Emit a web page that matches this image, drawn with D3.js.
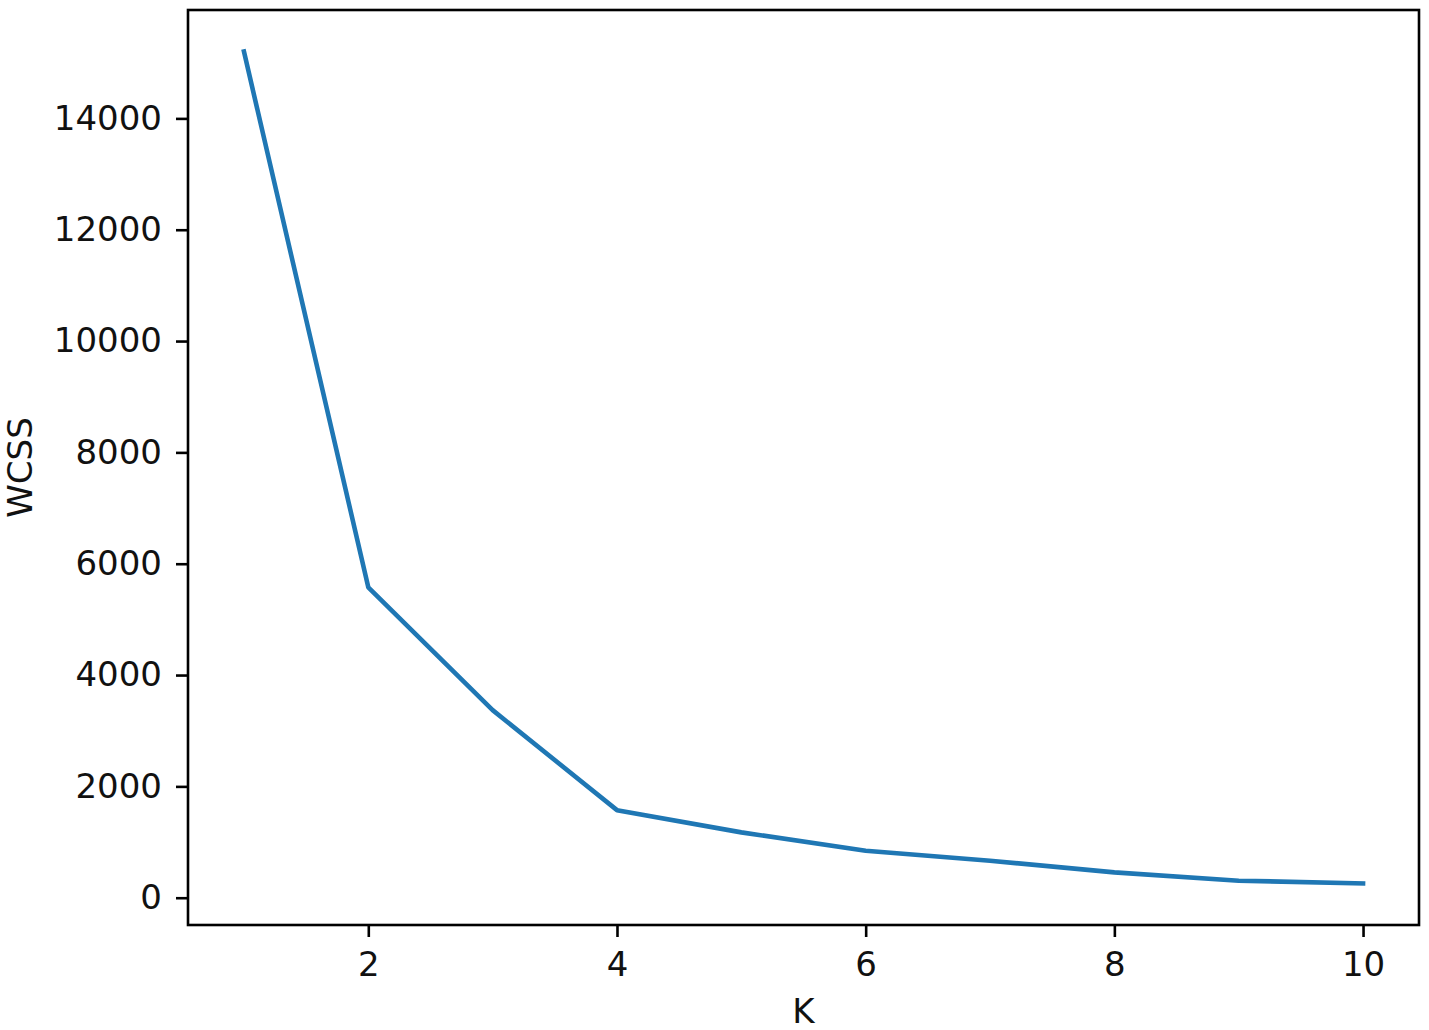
<!DOCTYPE html>
<html>
<head>
<meta charset="utf-8">
<script src="https://cdn.jsdelivr.net/npm/d3@7"></script>
<style>
  body { margin: 0; background: #fff; }
  svg { display: block; font-family: "DejaVu Sans", sans-serif; }
</style>
</head>
<body>
<div id="chart"></div>
<script>
// elbow curve values
var kValues = [1, 2, 3, 4, 5, 6, 7, 8, 9, 10];
var wcss = [15200, 5577, 3370, 1573, 1174, 845, 665, 455, 306, 257];
var xTicks = [2, 4, 6, 8, 10];
var yTicks = [0, 2000, 4000, 6000, 8000, 10000, 12000, 14000];

var width = 1429, height = 1030;
var plotLeft = 188, plotTop = 10, plotRight = 1419, plotBottom = 925;
var fontSize = '34px';

var svg = d3.select('#chart').append('svg')
  .attr('width', width)
  .attr('height', height);

// matplotlib style 5% margins
var xr = d3.extent(kValues), yr = d3.extent(wcss);
var xPad = (xr[1] - xr[0]) * 0.05, yPad = (yr[1] - yr[0]) * 0.05;

var x = d3.scaleLinear().domain([xr[0] - xPad, xr[1] + xPad]).range([plotLeft, plotRight]);
var y = d3.scaleLinear().domain([yr[0] - yPad, yr[1] + yPad]).range([plotBottom, plotTop]);

var line = d3.line()
  .x(function(d, i) { return x(kValues[i]); })
  .y(function(d) { return y(d); });

svg.append('path')
  .datum(wcss)
  .attr('d', line)
  .attr('fill', 'none')
  .attr('stroke', '#1f77b4')
  .attr('stroke-width', 4.6)
  .attr('stroke-linejoin', 'round')
  .attr('stroke-linecap', 'square');

var xAxis = svg.append('g')
  .attr('transform', 'translate(0,' + plotBottom + ')')
  .call(d3.axisBottom(x).tickValues(xTicks).tickSize(12).tickPadding(15).tickFormat(d3.format('d')));

var yAxis = svg.append('g')
  .attr('transform', 'translate(' + plotLeft + ',0)')
  .call(d3.axisLeft(y).tickValues(yTicks).tickSize(12).tickPadding(14).tickFormat(d3.format('d')));

[xAxis, yAxis].forEach(function(a) {
  a.select('.domain').remove();
  a.selectAll('line').attr('stroke', '#000').attr('stroke-width', 2.6);
  a.selectAll('text').attr('fill', '#111').style('font-size', fontSize)
    .style('font-family', '"DejaVu Sans", sans-serif');
});

// frame
svg.append('rect')
  .attr('x', plotLeft).attr('y', plotTop)
  .attr('width', plotRight - plotLeft).attr('height', plotBottom - plotTop)
  .attr('fill', 'none')
  .attr('stroke', '#000')
  .attr('stroke-width', 2.6);

svg.append('text')
  .attr('x', (plotLeft + plotRight) / 2)
  .attr('y', 1023)
  .attr('text-anchor', 'middle')
  .attr('fill', '#111')
  .style('font-size', fontSize)
  .text('K');

svg.append('text')
  .attr('transform', 'translate(32,' + ((plotTop + plotBottom) / 2) + ') rotate(-90)')
  .attr('text-anchor', 'middle')
  .attr('fill', '#111')
  .style('font-size', fontSize)
  .text('WCSS');
</script>
</body>
</html>
